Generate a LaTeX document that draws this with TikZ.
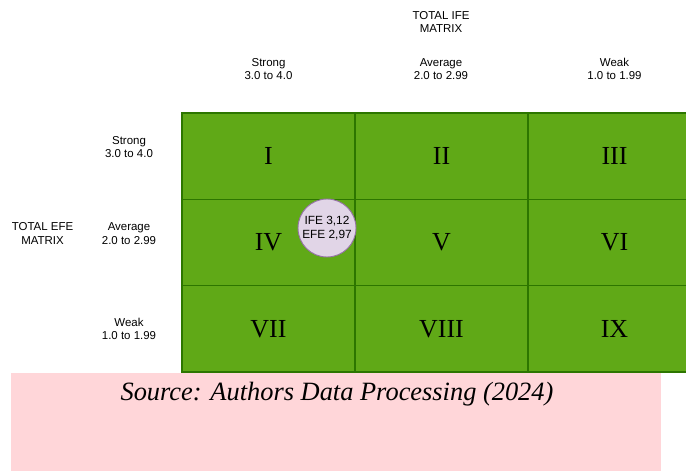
\documentclass[tikz,border=0pt]{standalone}
\usepackage{fontspec}
\setmainfont{Liberation Serif}
\setsansfont{Liberation Sans}
\usetikzlibrary{positioning}

\definecolor{cellgreen}{HTML}{60A917}
\definecolor{cellline}{HTML}{2D7600}
\definecolor{dotfill}{HTML}{E1D5E7}
\definecolor{dotline}{HTML}{9673A6}
\definecolor{notepink}{HTML}{FFD6D9}

\begin{document}
\begin{tikzpicture}[
  x=0.75pt, y=-0.75pt,
  every node/.style={inner sep=0pt, outer sep=0pt, align=center},
  lab/.style  ={font=\sffamily\fontsize{8.6}{10}\selectfont},
  cell/.style ={draw=cellline, line width=0.9pt, fill=cellgreen,
                minimum width=129.75pt, minimum height=64.75pt,
                font=\rmfamily\fontsize{19.5}{22}\selectfont},
  dot/.style  ={circle, draw=dotline, line width=0.7pt, fill=dotfill,
                minimum size=43.5pt,
                font=\sffamily\fontsize{8.9}{10}\selectfont},
  node distance=0pt
]
\useasboundingbox (0,0) rectangle (686,471);

%% ---- Matrix cells ------------------------------------------------
\node[cell] (c11) at (268.5,156.2) {I};
\node[cell, right=of c11] (c12) {II};
\node[cell, right=of c12] (c13) {III};
\node[cell, below=of c11] (c21) {IV};
\node[cell, right=of c21] (c22) {V};
\node[cell, right=of c22] (c23) {VI};
\node[cell, below=of c21] (c31) {VII};
\node[cell, right=of c31] (c32) {VIII};
\node[cell, right=of c32] (c33) {IX};

%% ---- Position of the company --------------------------------------
\node[dot] (pos) at (327,228) {IFE 3,12\\EFE 2,97};

%% ---- IFE axis (top) ----------------------------------------------
\node[lab] (ifetitle) at (441,22) {TOTAL IFE\\MATRIX};
\node[lab] (ifestrong) at (268.5,69) {Strong\\3.0 to 4.0};
\node[lab] (ifeavg)    at (441,69)   {Average\\2.0 to 2.99};
\node[lab] (ifeweak)   at (614.5,69) {Weak\\1.0 to 1.99};

%% ---- EFE axis (left) ---------------------------------------------
\node[lab] (efetitle)  at (42.5,233.5) {TOTAL EFE\\MATRIX};
\node[lab] (efestrong) at (129,147)   {Strong\\3.0 to 4.0};
\node[lab] (efeavg)    at (129,233.5) {Average\\2.0 to 2.99};
\node[lab] (efeweak)   at (129,329)   {Weak\\1.0 to 1.99};

%% ---- Source note ---------------------------------------------------
\fill[notepink] (11,373) rectangle (661,471);
\node[font=\rmfamily\itshape\fontsize{19.8}{22}\selectfont] (source)
     at (337,394) {Source: Authors Data Processing (2024)};

\end{tikzpicture}
\end{document}
